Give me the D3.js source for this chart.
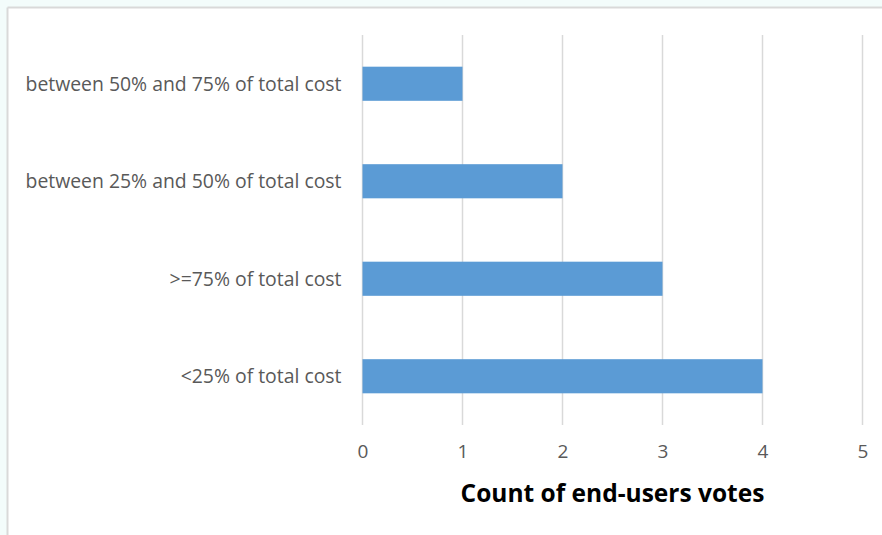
<!DOCTYPE html>
<html>
<head>
<meta charset="utf-8">
<script src="https://cdn.jsdelivr.net/npm/d3@7"></script>
<style>
  html, body { margin: 0; padding: 0; background: #f3fcfb; }
  svg { display: block; }
</style>
</head>
<body>
<svg id="chart" width="882" height="535"></svg>
<script>
// Cost-share answers, listed top to bottom
const categories = [
  "between 50% and 75% of total cost",
  "between 25% and 50% of total cost",
  ">=75% of total cost",
  "<25% of total cost"
];
const votes = [1, 2, 3, 4];
const xTicks = [0, 1, 2, 3, 4, 5];
const axisTitle = "Count of end-users votes";

const svg = d3.select("#chart");
const W = 882, H = 535;

// chart panel with its thin frame on the top and left edges
svg.append("rect").attr("x", 8).attr("y", 8).attr("width", W - 8).attr("height", H - 8)
  .attr("fill", "#ffffff");
svg.append("line").attr("x1", 7.5).attr("x2", W).attr("y1", 7.5).attr("y2", 7.5)
  .attr("stroke", "#d9d9d9").attr("stroke-width", 2);
svg.append("line").attr("x1", 7.5).attr("x2", 7.5).attr("y1", 7.5).attr("y2", H)
  .attr("stroke", "#d9d9d9").attr("stroke-width", 2);

const plot = { left: 362.5, right: 862.5, top: 35, bottom: 425 };

const x = d3.scaleLinear().domain([0, 5]).range([plot.left, plot.right]);
const y = d3.scaleBand().domain(categories).range([plot.top, plot.bottom]).paddingInner(0.65).paddingOuter(0.325);

// vertical gridlines
svg.append("g").selectAll("line").data(xTicks).join("line")
  .attr("x1", d => x(d)).attr("x2", d => x(d))
  .attr("y1", plot.top).attr("y2", plot.bottom)
  .attr("stroke", "#d9d9d9").attr("stroke-width", 1.5);

// bars
svg.append("g").selectAll("rect").data(votes).join("rect")
  .attr("x", x(0))
  .attr("y", (d, i) => y(categories[i]))
  .attr("width", d => x(d) - x(0))
  .attr("height", y.bandwidth())
  .attr("fill", "#5b9bd5");

const font = "'Open Sans', sans-serif";

// category axis
const yAxis = svg.append("g").attr("transform", `translate(${plot.left},0)`)
  .call(d3.axisLeft(y).tickSize(0).tickPadding(21));
yAxis.select(".domain").remove();
yAxis.selectAll("text")
  .attr("dy", "0.36em")
  .attr("fill", "#595959").style("font-family", font).style("font-size", "19.4px");

// value axis
const xAxis = svg.append("g").attr("transform", `translate(0,${plot.bottom})`)
  .call(d3.axisBottom(x).tickValues(xTicks).tickFormat(d3.format("d")).tickSize(0).tickPadding(20));
xAxis.select(".domain").remove();
xAxis.selectAll("text")
  .attr("fill", "#595959").style("font-family", font).style("font-size", "19px");

// axis title
svg.append("text")
  .attr("x", (plot.left + plot.right) / 2).attr("y", 502)
  .attr("text-anchor", "middle")
  .attr("fill", "#000000")
  .style("font-family", font).style("font-size", "24.5px").style("font-weight", "bold")
  .text(axisTitle);
</script>
</body>
</html>
